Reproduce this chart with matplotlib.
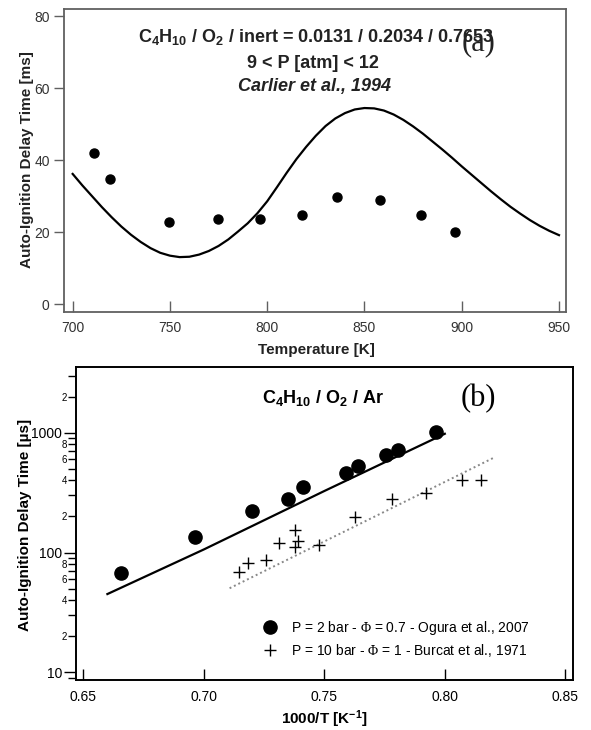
import numpy as np
import matplotlib
matplotlib.use("Agg")
import matplotlib.pyplot as plt
from matplotlib.ticker import FixedLocator, FixedFormatter, FuncFormatter

plt.rcParams['font.family'] = 'Liberation Sans'
plt.rcParams['mathtext.fontset'] = 'custom'
plt.rcParams['mathtext.rm'] = 'Liberation Serif'
plt.rcParams['mathtext.bf'] = 'Liberation Sans:bold'
plt.rcParams['mathtext.it'] = 'Liberation Sans:italic'

#______________________________ panel (a) data ______________________________
temp_exp = [711.0, 719.4, 749.4, 774.7, 796.4, 817.9, 835.9, 858.0, 878.9, 896.7]
delay_exp = [42.0, 34.8, 22.9, 23.8, 23.8, 24.7, 29.9, 29.0, 24.7, 20.0]

temp_model = [700, 705, 710, 715, 720, 725, 730, 735, 740, 745, 750, 755, 760, 765,
              770, 775, 780, 785, 790, 795, 800, 805, 810, 815, 820, 825, 830, 835,
              840, 845, 850, 855, 860, 865, 870, 875, 880, 885, 890, 895, 900, 905,
              910, 915, 920, 925, 930, 935, 940, 945, 950]
delay_model = [36.2, 33.0, 30.0, 27.0, 24.2, 21.6, 19.3, 17.3, 15.6, 14.3, 13.5, 13.1,
               13.2, 13.8, 14.8, 16.2, 18.0, 20.2, 22.5, 25.3, 28.6, 32.5, 36.5, 40.3,
               43.7, 46.8, 49.5, 51.6, 53.1, 54.1, 54.5, 54.4, 53.8, 52.7, 51.2, 49.4,
               47.4, 45.2, 43.0, 40.7, 38.3, 36.0, 33.7, 31.4, 29.2, 27.1, 25.2, 23.4,
               21.8, 20.4, 19.2]

#______________________________ panel (b) data ______________________________
invt_ogura = [0.6658, 0.6962, 0.7198, 0.7350, 0.7411, 0.7592, 0.7641, 0.7755, 0.7804, 0.7962]
delay_ogura = [67.2, 133.5, 221, 282, 351, 457, 523, 651, 721, 1019]

invt_burcat = [0.7146, 0.7182, 0.7257, 0.7314, 0.7378, 0.7389, 0.7378, 0.7480,
               0.7628, 0.7780, 0.7923, 0.8073, 0.8151]
delay_burcat = [69.3, 81.5, 85.8, 119.7, 154.7, 123.6, 112.2, 115.9, 196, 282, 313, 405, 405]

invt_fit_ogura = [0.660, 0.700, 0.750, 0.800]
delay_fit_ogura = [45, 106, 326, 980]
invt_fit_burcat = [0.7107, 0.820]
delay_fit_burcat = [50.3, 614]

W, H = 591, 730
fig = plt.figure(figsize=(W / 100, H / 100), dpi=100)


def box(l, t, r, b):
    return [l / W, 1 - b / H, (r - l) / W, (b - t) / H]


def fpos(x, y):
    return x / W, 1 - y / H


#______________________________ panel (a) ______________________________
ax1 = fig.add_axes(box(64.3, 9, 566, 311.7))
ax1.plot(temp_model, delay_model, color='black', lw=1.6)
ax1.plot(temp_exp, delay_exp, 'o', color='black', ms=6.5)
ax1.set_xlim(695.7, 953.6)
ax1.set_ylim(-2.06, 82.0)
ax1.set_xticks([700, 750, 800, 850, 900, 950])
ax1.set_yticks([0, 20, 40, 60, 80])
for s in ax1.spines.values():
    s.set_color('#606060')
    s.set_linewidth(1.3)
ax1.tick_params(axis='x', direction='in', length=8, width=1.0, color='#606060',
                labelsize=10, pad=7, labelcolor='#333333')
ax1.tick_params(axis='y', direction='out', length=7, width=1.0, color='#606060',
                labelsize=10, pad=3.5, labelcolor='#333333')

fig.text(*fpos(316, 37), r'C$_\mathbf{4}$H$_\mathbf{10}$ / O$_\mathbf{2}$ / inert = 0.0131 / 0.2034 / 0.7653',
         ha='center', va='center', fontsize=13, fontweight='bold', color='#222222')
fig.text(*fpos(313, 63), '9 < P [atm] < 12', ha='center', va='center',
         fontsize=13, fontweight='bold', color='#222222')
fig.text(*fpos(315, 86), 'Carlier et al., 1994', ha='center', va='center',
         fontsize=13, fontweight='bold', style='italic', color='#222222')
fig.text(*fpos(479, 43), '(a)', ha='center', va='center', fontsize=22,
         family='Liberation Serif', color='#222222')
fig.text(*fpos(27.5, 160), 'Auto-Ignition Delay Time [ms]', ha='center', va='center',
         rotation=90, fontsize=11, fontweight='bold', color='#222222')
fig.text(*fpos(316.5, 350), 'Temperature [K]', ha='center', va='center',
         fontsize=11, fontweight='bold', color='#222222')

#______________________________ panel (b) ______________________________
ax2 = fig.add_axes(box(76, 367.3, 573.3, 680.3))
ax2.set_yscale('log')
ax2.plot(invt_fit_ogura, delay_fit_ogura, color='black', lw=1.6)
ax2.plot(invt_fit_burcat, delay_fit_burcat, color='#888888', lw=1.4, ls=(0, (1, 1.5)))
h1, = ax2.plot(invt_ogura, delay_ogura, 'o', color='black', ms=9.5, ls='none',
               label=r'P = 2 bar - $\mathrm{\Phi}$ = 0.7 - Ogura et al., 2007')
h2, = ax2.plot(invt_burcat, delay_burcat, '+', color='black', ms=8, mew=1.0, ls='none',
               label=r'P = 10 bar - $\mathrm{\Phi}$ = 1 - Burcat et al., 1971')
ax2.set_xlim(0.64697, 0.85332)
ax2.set_ylim(8.575, 3516)
ax2.set_xticks([0.65, 0.70, 0.75, 0.80, 0.85])
ax2.set_xticklabels(['0.65', '0.70', '0.75', '0.80', '0.85'])
ax2.yaxis.set_major_locator(FixedLocator([10, 100, 1000]))
ax2.yaxis.set_major_formatter(FixedFormatter(['10', '100', '1000']))
minor = [m * d for d in (1, 10, 100, 1000) for m in range(2, 10)]
ax2.yaxis.set_minor_locator(FixedLocator(minor))


def minor_fmt(v, pos):
    lead = int(round(v / 10 ** np.floor(np.log10(v) + 1e-9)))
    return str(lead) if lead in (2, 4, 6, 8) else ''


ax2.yaxis.set_minor_formatter(FuncFormatter(minor_fmt))
for s in ax2.spines.values():
    s.set_color('black')
    s.set_linewidth(1.4)
ax2.tick_params(axis='x', direction='in', length=8, width=1.0, labelsize=10, pad=7)
ax2.tick_params(axis='y', which='major', direction='out', length=9, width=1.0,
                labelsize=10, pad=1)
ax2.tick_params(axis='y', which='minor', direction='out', length=5.5, width=1.0,
                labelsize=7, pad=1)

ax2.legend(handles=[h1, h2], loc='upper left', bbox_to_anchor=fpos(263.5, 619),
           bbox_transform=fig.transFigure, frameon=False, fontsize=10,
           handlelength=1.0, handletextpad=1.0, borderpad=0, borderaxespad=0,
           labelspacing=0.35)

fig.text(*fpos(322.7, 397.7), r'C$_\mathbf{4}$H$_\mathbf{10}$ / O$_\mathbf{2}$ / Ar',
         ha='center', va='center', fontsize=13, fontweight='bold')
fig.text(*fpos(478.6, 398.7), '(b)', ha='center', va='center', fontsize=22,
         family='Liberation Serif')
fig.text(*fpos(25.2, 525), 'Auto-Ignition Delay Time [µs]', ha='center', va='center',
         rotation=90, fontsize=11, fontweight='bold')
fig.text(*fpos(324, 719.7), r'1000/T [K$^{\mathbf{-1}}$]', ha='center', va='center',
         fontsize=11, fontweight='bold')

fig.savefig('out.png', dpi=100)
